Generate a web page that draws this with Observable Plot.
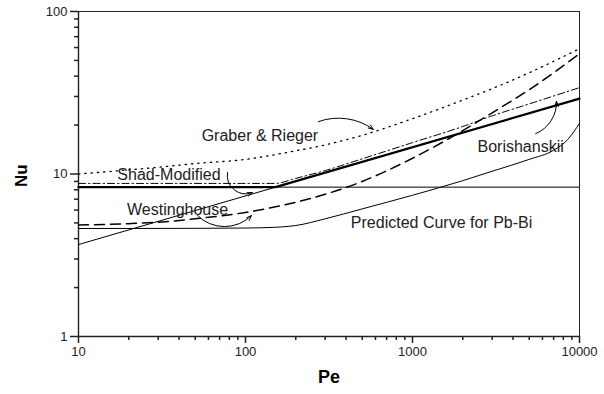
<!DOCTYPE html>
<html>
<head>
<meta charset="utf-8">
<script src="https://cdn.jsdelivr.net/npm/d3@7"></script>
<script src="https://cdn.jsdelivr.net/npm/@observablehq/plot@0.6"></script>
<style>
  html, body { margin: 0; padding: 0; background: #fff; }
  #chart { width: 604px; height: 394px; }
</style>
</head>
<body>
<div id="chart"></div>
<script>
// ---- Data ----
const graberPe = [10, 20, 30, 50, 100, 200, 300, 500, 1000, 2000, 3000, 5000, 10000];
const graberNu = [10.0, 10.6, 11.0, 11.6, 12.3, 13.9, 15.1, 17.3, 21.9, 28.5, 33.5, 42, 59];

const westPe = [10, 20, 30, 50, 100, 200, 300, 500, 1000, 2000, 3000, 5000, 10000];
const westNu = [4.85, 4.95, 5.05, 5.3, 5.8, 6.7, 7.5, 9.0, 12.5, 18.5, 23.8, 33, 55];

const shadPe = [10, 150, 200, 300, 500, 1000, 2000, 3000, 5000, 10000];
const shadNu = [8.75, 8.75, 9.4, 10.5, 12.4, 15.6, 19.6, 22.8, 27, 34];

const borPe = [10, 151, 10000];
const borNu = [8.3, 8.3, 29.1];

const powPe = [10, 10000];
const powNu = [3.68, 29.1];

const flatNu = [8.3];

const predPe = [10, 50, 100, 150, 180, 200, 300, 500, 1000, 2000, 3000, 5000, 7000, 8500, 10000];
const predNu = [4.62, 4.63, 4.65, 4.7, 4.76, 4.82, 5.3, 6.1, 7.4, 9.1, 10.4, 12.3, 14.0, 16.3, 20.5];

const xMajor = [10, 100, 1000, 10000];
const yMajor = [1, 10, 100];

const labelText = ["Graber & Rieger", "Shad-Modified", "Westinghouse", "Borishanskii", "Predicted Curve for Pb-Bi"];
const labelPe = [122, 34.8, 39.2, 4440, 1493];
const labelNu = [17.1, 9.93, 6.05, 14.6, 5.01];

const arrowPe1 = [273, 78, 51.6, 5460];
const arrowNu1 = [21.0, 10.2, 5.55, 17.7];
const arrowPe2 = [583, 110, 108.6, 7280];
const arrowNu2 = [18.8, 7.69, 5.55, 28.0];
const arrowBend = [28, -60, -45, -35];

// ---- Build tables ----
const zip = (xs, ys) => xs.map((x, i) => ({Pe: x, Nu: ys[i]}));
const graber = zip(graberPe, graberNu);
const west = zip(westPe, westNu);
const shad = zip(shadPe, shadNu);
const bor = zip(borPe, borNu);
const pow = zip(powPe, powNu);
const pred = zip(predPe, predNu);
const labels = labelText.map((t, i) => ({text: t, Pe: labelPe[i], Nu: labelNu[i]}));
const arrows = arrowPe1.map((p, i) => ({x1: p, y1: arrowNu1[i], x2: arrowPe2[i], y2: arrowNu2[i], bend: arrowBend[i]}));

const decadesMinor = (lo, hi) => {
  const out = [];
  for (let d = lo; d < hi; d *= 10) for (let k = 2; k <= 9; k++) out.push(d * k);
  return out;
};
const xMinor = decadesMinor(10, 10000);
const yMinor = decadesMinor(1, 100);

const W = 604, H = 394, mL = 78, mR = 25, mT = 11, mB = 58;
const innerW = W - mL - mR, innerH = H - mT - mB;
const minorLen = 4;

const ink = "#222";
const font = "'Liberation Sans', Arial, Helvetica, sans-serif";

const plot = Plot.plot({
  width: W,
  height: H,
  marginLeft: mL,
  marginRight: mR,
  marginTop: mT,
  marginBottom: mB,
  style: {fontFamily: font, fontSize: "13px", color: ink, background: "#fff"},
  x: {type: "log", domain: [10, 10000], label: null},
  y: {type: "log", domain: [1, 100], label: null},
  marks: [
    // minor ticks (outward, short)
    Plot.tickX(xMinor, {x: d => d, insetTop: innerH - minorLen, dy: minorLen, stroke: ink, strokeWidth: 1.5}),
    Plot.tickY(yMinor, {y: d => d, insetRight: innerW - minorLen, dx: -minorLen, stroke: ink, strokeWidth: 1.5}),
    // major ticks + labels
    Plot.axisX({ticks: xMajor, tickSize: 7, tickPadding: 3, tickFormat: d => String(d), stroke: ink, strokeWidth: 1.5, fill: ink, fontSize: 13}),
    Plot.axisY({ticks: yMajor, tickSize: 8, tickPadding: 3, tickFormat: d => String(d), stroke: ink, strokeWidth: 1.5, fill: ink, fontSize: 13}),
    Plot.frame({stroke: ink, strokeWidth: 1}),
    Plot.ruleY([1], {stroke: ink, strokeWidth: 1.6}),
    Plot.ruleX([10], {stroke: ink, strokeWidth: 1.4}),
    // horizontal reference
    Plot.ruleY(flatNu, {stroke: "#000", strokeWidth: 1}),
    // thin power law
    Plot.line(pow, {x: "Pe", y: "Nu", stroke: "#000", strokeWidth: 1}),
    // Borishanskii (thick)
    Plot.line(bor, {x: "Pe", y: "Nu", stroke: "#000", strokeWidth: 2.2}),
    // Graber & Rieger (dotted)
    Plot.line(graber, {x: "Pe", y: "Nu", stroke: "#000", strokeWidth: 1.3, strokeDasharray: "1.3,5", curve: "monotone-x"}),
    // Shad-Modified (dash-dot)
    Plot.line(shad, {x: "Pe", y: "Nu", stroke: "#000", strokeWidth: 1, strokeDasharray: "7,3,1.5,3", curve: "monotone-x"}),
    // Westinghouse (dashed)
    Plot.line(west, {x: "Pe", y: "Nu", stroke: "#000", strokeWidth: 1.5, strokeDasharray: "10,6", curve: "monotone-x"}),
    // Predicted curve
    Plot.line(pred, {x: "Pe", y: "Nu", stroke: "#000", strokeWidth: 1, curve: "monotone-x"}),
    // Arrows (one mark per bend angle)
    ...arrows.map(a => Plot.arrow([a], {x1: "x1", y1: "y1", x2: "x2", y2: "y2", bend: a.bend, stroke: "#000", strokeWidth: 1, headLength: 8, headAngle: 40})),
    // Labels
    Plot.text(labels, {x: "Pe", y: "Nu", text: "text", fontSize: 16, fill: ink}),
    // Axis titles
    Plot.text(["Pe"], {frameAnchor: "bottom", dy: 46, fontSize: 18, fontWeight: "bold", fill: "#000"}),
    Plot.text(["Nu"], {frameAnchor: "left", dx: -57, dy: 13, rotate: -90, fontSize: 17, fontWeight: "bold", fill: "#000"})
  ]
});
document.getElementById("chart").appendChild(plot);
</script>
</body>
</html>
